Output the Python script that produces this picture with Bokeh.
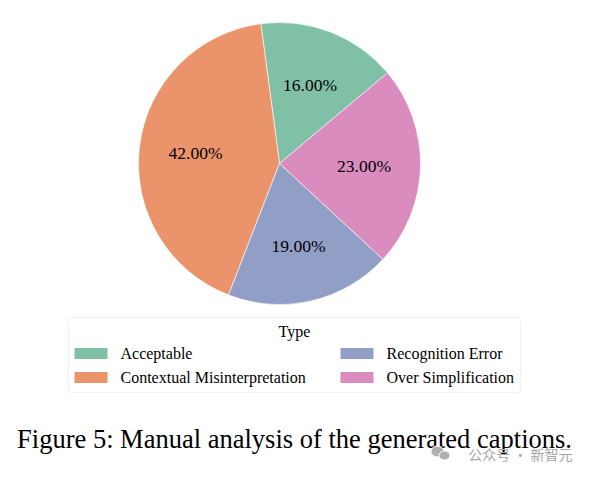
import numpy as np
from bokeh.plotting import figure
from bokeh.models import ColumnDataSource, BoxAnnotation
from bokeh.core.properties import value
from bokeh.embed import file_html
from bokeh.resources import INLINE

# ---- data ----
categories = ["Acceptable", "Contextual Misinterpretation", "Recognition Error", "Over Simplification"]
shares = [16.0, 42.0, 19.0, 23.0]
colors = ["#7fc0a7", "#eb946b", "#919fc7", "#da8cbf"]
legend_title = "Type"
caption = "Figure 5: Manual analysis of the generated captions."
watermark = "公众号 · 新智元"

W, H = 574, 466
p = figure(width=W, height=H, x_range=(0, W), y_range=(0, H),
           output_backend="svg", toolbar_location=None, min_border=0)
p.axis.visible = False
p.grid.visible = False
p.outline_line_color = None
p.background_fill_color = "white"
p.border_fill_color = "white"

def Y(py):
    return H - py

# ---- pie ----
cx, cy, r = 279, Y(163), 141
start_deg = 40.0
vals = np.array(shares)
frac = vals / vals.sum()
ends = start_deg + np.cumsum(frac) * 360.0
starts = ends - frac * 360.0
mids = np.deg2rad((starts + ends) / 2)
src = ColumnDataSource(dict(
    start=np.deg2rad(starts), end=np.deg2rad(ends), color=colors,
    lx=cx + 0.6 * r * np.cos(mids), ly=cy + 0.6 * r * np.sin(mids),
    lab=[f"{v:.2f}%" for v in frac * 100],
))
p.wedge(x=cx, y=cy, radius=r, start_angle="start", end_angle="end",
        direction="anticlock", fill_color="color", line_color="white",
        line_width=0.6, source=src)
p.text(x="lx", y="ly", text="lab", source=src, text_align="center",
       text_baseline="middle", text_font=value("Liberation Serif"),
       text_font_size="17.5px", text_color="black")

# ---- legend ----
p.add_layout(BoxAnnotation(left=68, right=520, bottom=Y(392), top=Y(317),
                           fill_color="white", fill_alpha=1, level="underlay",
                           line_color="#cfcfcf", line_width=1, border_radius=3))
p.text(x=[294], y=[Y(331)], text=[legend_title], text_align="center",
       text_baseline="middle", text_font=value("Liberation Serif"),
       text_font_size="16px", text_color="black")
col_x = [74, 74, 340, 340]
row_y = [Y(353), Y(377), Y(353), Y(377)]
lsrc = ColumnDataSource(dict(
    sx=[x + 16.5 for x in col_x], sy=row_y, tx=[x + 46 for x in col_x],
    color=colors, lab=categories))
p.rect(x="sx", y="sy", width=33, height=11, fill_color="color",
       line_color=None, source=lsrc)
p.text(x="tx", y="sy", text="lab", source=lsrc, text_align="left",
       text_baseline="middle", text_font=value("Liberation Serif"),
       text_font_size="16px", text_color="black")

# ---- caption ----
p.text(x=[294], y=[Y(438)], text=[caption], text_align="center",
       text_baseline="middle", text_font=value("Liberation Serif"),
       text_font_size="26.5px", text_color="black")

# ---- watermark ----
p.ellipse(x=[437, 444], y=[Y(451), Y(455)], width=[13, 11], height=[11, 9],
          fill_color="#b0b0b0", line_color="white", line_width=1)
p.text(x=[572], y=[Y(453)], text=[watermark], text_align="right",
       text_baseline="middle", text_font=value("Noto Sans CJK SC"),
       text_font_size="14px", text_color="#a8a8a8")

open("out.html", "w").write(file_html(p, INLINE))
